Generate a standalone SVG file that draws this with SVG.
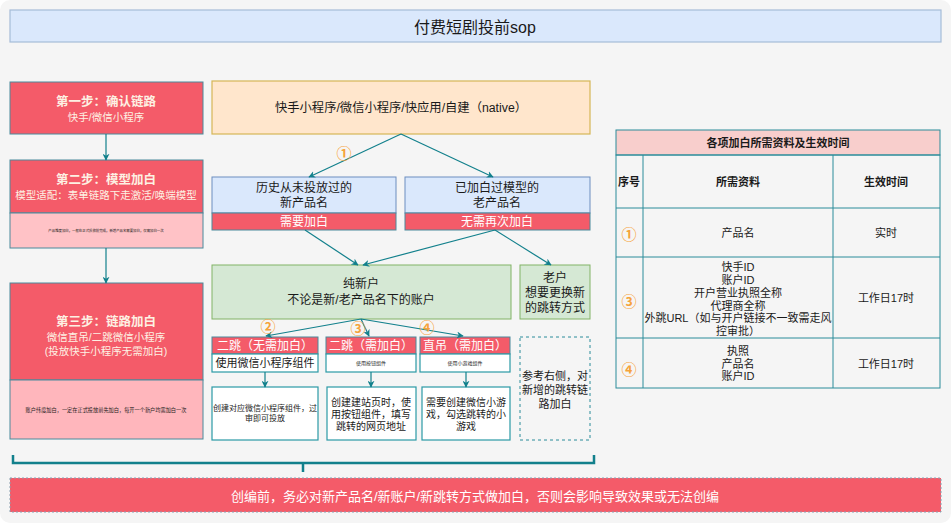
<svg xmlns="http://www.w3.org/2000/svg" width="951" height="523" viewBox="0 0 951 523">
<defs>
<marker id="ah" viewBox="0 0 10 10" refX="9" refY="5" markerWidth="7" markerHeight="7" orient="auto" markerUnits="userSpaceOnUse">
<path d="M0,0 L10,5 L0,10 L3,5 Z" fill="#12808c"/>
</marker>
<style>
text{font-family:"Liberation Sans","Noto Sans CJK SC",sans-serif;text-anchor:middle;dominant-baseline:central;fill:#1a1a1a}
.red{fill:#f45b69;stroke:#4b8a9c;stroke-width:1}
.step{fill:#fdf1e3;font-weight:bold;font-size:12.5px}
.stepsub{fill:#fdf1e3;font-size:10.5px}
.wt{fill:#ffffff}
.t12{font-size:12px}
.t11{font-size:11px}
.t10{font-size:10px}
.num{fill:#f5a33a;font-size:15px;font-weight:bold;font-family:"Noto Sans CJK SC","DejaVu Sans",sans-serif}
.conn{stroke:#12808c;stroke-width:1.2;fill:none;marker-end:url(#ah)}
.tb{fill:none;stroke:#2b8c9a;stroke-width:1}
.wbox{fill:#ffffff;stroke:#2b9aa6;stroke-width:1.2}
</style>
</defs>
<rect x="0" y="0" width="951" height="523" rx="10" fill="#f5f5f5"/>

<g id="title">
<rect x="10" y="10" width="931" height="32" fill="#dae8fc" stroke="#a6bcd8" stroke-width="1.2"/>
<text x="475" y="27" style="font-size:16px">付费短剧投前sop</text>
</g>

<g id="step1">
<rect class="red" x="10" y="82" width="193" height="52"/>
<text class="step" x="106" y="102">第一步：确认链路</text>
<text class="stepsub" x="106" y="117">快手/微信小程序</text>
</g>
<g id="step2">
<rect class="red" x="10" y="160" width="193" height="53"/>
<text class="step" x="106" y="180">第二步：模型加白</text>
<text class="stepsub" x="106" y="195">模型适配：表单链路下走激活/唤端模型</text>
<rect x="10" y="213" width="193" height="35" fill="#ffc2c6" stroke="#4b8a9c" stroke-width="1"/>
<text x="106" y="231" style="font-size:3.4px">产品维度加白，一般在正式投放前完成，新增产品名需要加白，仅需加白一次</text>
</g>
<g id="step3">
<rect class="red" x="10" y="283" width="193" height="97"/>
<text class="step" x="106" y="322">第三步：链路加白</text>
<text class="stepsub" x="106" y="337">微信直吊/二跳微信小程序</text>
<text class="stepsub" x="106" y="351">(投放快手小程序无需加白)</text>
<rect x="10" y="380" width="193" height="59" fill="#ffb6bc" stroke="#4b8a9c" stroke-width="1"/>
<text x="106" y="410" style="font-size:5.2px">账户纬度加白，一定在正式投放前先加白，每开一个新户均需加白一次</text>
</g>

<g id="platform">
<rect x="212" y="81" width="378" height="53" fill="#ffe6cc" stroke="#d6b656" stroke-width="1.2"/>
<text x="401" y="108" style="font-size:12.3px">快手小程序/微信小程序/快应用/自建（native）</text>
</g>

<g id="newProduct">
<rect x="212" y="177" width="184" height="36" fill="#dae8fc" stroke="#6c8ebf" stroke-width="1"/>
<text class="t12" x="304" y="188">历史从未投放过的</text>
<text class="t12" x="304" y="203">新产品名</text>
<rect class="red" x="212" y="213" width="184" height="17"/>
<text class="t12 wt" x="304" y="221.5">需要加白</text>
</g>
<g id="oldProduct">
<rect x="405" y="177" width="185" height="36" fill="#dae8fc" stroke="#6c8ebf" stroke-width="1"/>
<text class="t12" x="497" y="188">已加白过模型的</text>
<text class="t12" x="497" y="203">老产品名</text>
<rect class="red" x="405" y="213" width="185" height="17"/>
<text class="t12 wt" x="497" y="221.5">无需再次加白</text>
</g>

<g id="pureNew">
<rect x="212" y="265" width="299" height="54" fill="#d5e8d4" stroke="#82b366" stroke-width="1"/>
<text class="t12" x="361" y="284">纯新户</text>
<text class="t12" x="361" y="300">不论是新/老产品名下的账户</text>
</g>
<g id="oldAccount">
<rect x="520" y="265" width="70" height="54" fill="#d5e8d4" stroke="#82b366" stroke-width="1"/>
<text class="t12" x="555" y="278">老户</text>
<text class="t12" x="555" y="293">想要更换新</text>
<text class="t12" x="555" y="308">的跳转方式</text>
</g>

<g id="jumpA">
<rect class="red" x="212" y="337" width="106" height="17"/>
<text class="t12 wt" x="265" y="345.5">二跳（无需加白）</text>
<rect class="wbox" x="212" y="354" width="106" height="18"/>
<text class="t11" x="265" y="363">使用微信小程序组件</text>
</g>
<g id="jumpB">
<rect class="red" x="326" y="337" width="90" height="17"/>
<text class="t12 wt" x="371" y="345.5">二跳（需加白）</text>
<rect class="wbox" x="326" y="354" width="90" height="18"/>
<text x="371" y="363" style="font-size:5px">使用按钮组件</text>
</g>
<g id="jumpC">
<rect class="red" x="420" y="337" width="90" height="17"/>
<text class="t12 wt" x="465" y="345.5">直吊（需加白）</text>
<rect class="wbox" x="420" y="354" width="90" height="18"/>
<text x="465" y="363" style="font-size:5px">使用小游戏组件</text>
</g>

<g id="refNote">
<rect x="520" y="337" width="70" height="103" fill="none" stroke="#2b8c9a" stroke-width="1" stroke-dasharray="3 3"/>
<text class="t11" x="555" y="376">参考右侧，对</text>
<text class="t11" x="555" y="390">新增的跳转链</text>
<text class="t11" x="555" y="404">路加白</text>
</g>

<g id="stepA">
<rect class="wbox" x="212" y="387" width="106" height="53"/>
<text x="265" y="408" style="font-size:8px">创建对应微信小程序组件，过</text>
<text x="265" y="418" style="font-size:8px">审即可投放</text>
</g>
<g id="stepB">
<rect class="wbox" x="327" y="387" width="89" height="53"/>
<text class="t10" x="371" y="402">创建建站页时，使</text>
<text class="t10" x="371" y="414">用按钮组件，填写</text>
<text class="t10" x="371" y="426">跳转的网页地址</text>
</g>
<g id="stepC">
<rect class="wbox" x="422" y="387" width="88" height="53"/>
<text class="t10" x="466" y="402">需要创建微信小游</text>
<text class="t10" x="466" y="414">戏，勾选跳转的小</text>
<text class="t10" x="466" y="426">游戏</text>
</g>

<g id="table">
<rect x="616" y="130" width="324" height="25" fill="#f8cecc" stroke="#2b8c9a" stroke-width="1"/>
<text x="778" y="143" style="font-size:11px;font-weight:bold">各项加白所需资料及生效时间</text>
<rect class="tb" x="616" y="155" width="324" height="233"/>
<line class="tb" x1="643" y1="155" x2="643" y2="388"/>
<line class="tb" x1="833" y1="155" x2="833" y2="388"/>
<line class="tb" x1="616" y1="208" x2="940" y2="208"/>
<line class="tb" x1="616" y1="257" x2="940" y2="257"/>
<line class="tb" x1="616" y1="338" x2="940" y2="338"/>
<text x="629" y="182" style="font-size:11px;font-weight:bold">序号</text>
<text x="738" y="182" style="font-size:11px;font-weight:bold">所需资料</text>
<text x="886" y="182" style="font-size:11px;font-weight:bold">生效时间</text>
<text class="num" x="629" y="233">①</text>
<text class="t11" x="738" y="233">产品名</text>
<text class="t11" x="886" y="233">实时</text>
<text class="num" x="629" y="300">③</text>
<text class="t11" x="738" y="267">快手ID</text>
<text class="t11" x="738" y="280">账户ID</text>
<text class="t11" x="738" y="293">开户营业执照全称</text>
<text class="t11" x="738" y="306">代理商全称</text>
<text class="t11" x="738" y="318">外跳URL（如与开户链接不一致需走风</text>
<text class="t11" x="738" y="331">控审批）</text>
<text class="t11" x="886" y="298">工作日17时</text>
<text class="num" x="629" y="368">④</text>
<text class="t11" x="738" y="351">执照</text>
<text class="t11" x="738" y="364">产品名</text>
<text class="t11" x="738" y="376">账户ID</text>
<text class="t11" x="886" y="364">工作日17时</text>
</g>

<g id="bottomNote">
<rect x="10" y="478" width="931" height="34" fill="#f45b69" stroke="#8aa0b0" stroke-width="1" stroke-dasharray="2 2"/>
<text class="wt" x="475" y="496" style="font-size:13px">创编前，务必对新产品名/新账户/新跳转方式做加白，否则会影响导致效果或无法创编</text>
</g>

<g id="connectors">
<line class="conn" x1="106" y1="134" x2="106" y2="160"/>
<line class="conn" x1="106" y1="248" x2="106" y2="283"/>
<line class="conn" x1="401" y1="134" x2="309" y2="177"/>
<line class="conn" x1="401" y1="134" x2="493" y2="177"/>
<line class="conn" x1="305" y1="230" x2="358" y2="265"/>
<line class="conn" x1="495" y1="230" x2="363" y2="265"/>
<line class="conn" x1="495" y1="230" x2="551" y2="265"/>
<line class="conn" x1="361" y1="319" x2="266" y2="336"/>
<line class="conn" x1="361" y1="319" x2="369" y2="336"/>
<line class="conn" x1="361" y1="319" x2="463" y2="336"/>
<line class="conn" x1="265" y1="372" x2="265" y2="387"/>
<line class="conn" x1="371" y1="372" x2="371" y2="387"/>
<line class="conn" x1="466" y1="372" x2="466" y2="387"/>
<path d="M13,455 V463 H594 V455 M303,463 V472" fill="none" stroke="#12808c" stroke-width="2.5"/>
<text class="num" x="344" y="152">①</text>
<text class="num" x="268" y="325">②</text>
<text class="num" x="358" y="327">③</text>
<text class="num" x="427" y="326">④</text>
</g>
</svg>
